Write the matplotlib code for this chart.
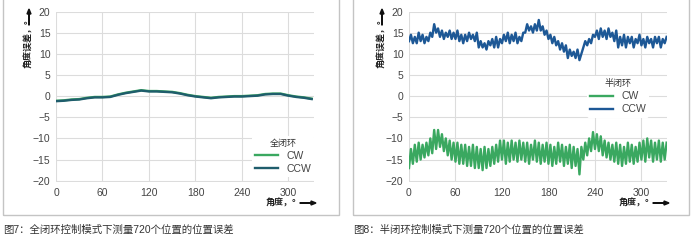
import numpy as np
import matplotlib
matplotlib.use("Agg")
import matplotlib.pyplot as plt
from matplotlib.patches import Rectangle, FancyArrow

plt.rcParams['font.family'] = ['Liberation Sans', 'Noto Sans CJK SC', 'DejaVu Sans']

# ---- data ----
# Fig 7: full closed loop, values every 10 deg
ang7 = [0, 10, 20, 30, 40, 50, 60, 70, 80, 90, 100, 110, 120, 130, 140, 150, 160,
        170, 180, 190, 200, 210, 220, 230, 240, 250, 260, 270, 280, 290, 300, 310,
        320, 330]
cw7 = [-1.1, -1.0, -0.8, -0.7, -0.4, -0.2, -0.2, -0.1, 0.4, 0.8, 1.1, 1.4, 1.2,
       1.2, 1.1, 1.0, 0.7, 0.3, 0.0, -0.2, -0.4, -0.2, -0.1, 0.0, 0.0, 0.1, 0.2,
       0.5, 0.6, 0.6, 0.2, -0.1, -0.3, -0.6]
ccw7 = [-1.2, -1.1, -0.9, -0.8, -0.5, -0.3, -0.3, -0.2, 0.3, 0.7, 1.0, 1.3, 1.1,
        1.1, 1.0, 0.9, 0.6, 0.2, -0.1, -0.3, -0.5, -0.3, -0.2, -0.1, -0.1, 0.0,
        0.1, 0.4, 0.5, 0.5, 0.1, -0.2, -0.4, -0.7]

# Fig 8: semi closed loop, values every 2.5 deg
ang8 = np.arange(0, 335, 2.5)
cw8 = [-17, -12.5, -16, -11.5, -15.5, -11, -15, -11.5, -14.5, -11, -14, -10,
       -13.5, -8, -12.5, -8, -12, -9, -13, -10, -14, -10.5, -15, -11,
       -15.5, -11, -16, -11.5, -16, -11.5, -16.5, -12, -16.5, -11.5, -17, -12,
       -17, -12.5, -17.5, -12, -17, -12.5, -16.5, -12, -16, -11.5, -15.5, -10.5,
       -15, -10.5, -16, -11, -15.5, -10.5, -15, -11, -15.5, -10.5, -15, -11,
       -15.5, -11, -16, -11.5, -15, -10.5, -15.5, -11, -16, -11.5, -15.5, -11,
       -16, -11.5, -16.5, -12, -16, -11, -15.5, -11.5, -16.5, -12, -16, -11.5,
       -17, -12, -16.5, -12.5, -18.5, -12, -15, -11, -14, -10, -13, -8.5,
       -12.5, -9, -13, -9.5, -14, -10.5, -14.5, -11, -15, -11.5, -15.5, -11,
       -16, -11.5, -16.5, -12, -16, -11, -15.5, -11.5, -16, -12, -15.5, -11,
       -15, -10.5, -15.5, -10, -14.5, -10.5, -15.5, -11, -15, -10.5, -15.5, -11,
       -15, -11]
ccw8 = [13, 14.5, 12.5, 14, 12.5, 15, 13, 14.5, 12.5, 14, 13, 15,
        14, 17, 15, 16, 14, 15.5, 13.5, 15, 14, 15.5, 13.5, 15,
        13.5, 15.5, 13, 14.5, 12.5, 14.5, 13, 15, 13.5, 14.5, 13, 15,
        11.5, 13, 11.5, 12.5, 11, 13, 12, 13.5, 11.5, 14, 11.5, 13.5,
        12.5, 14.5, 13, 15, 12.5, 14.5, 13, 15, 12.5, 14, 13, 15,
        15, 17, 15.5, 16.5, 15, 17, 15.5, 18, 15.5, 16.5, 14.5, 15.5,
        13.5, 14.5, 12.5, 14, 12, 13, 11, 12.5, 10.5, 12, 9, 11,
        9.5, 10.5, 9, 11, 8.5, 10, 11.5, 13, 12, 13.5, 12.5, 14.5,
        14, 15.5, 13.5, 16, 14, 15.5, 13.5, 16, 14, 15, 13, 15.5,
        11.5, 14, 12, 14.5, 11.5, 14, 12.5, 14, 11.5, 13.5, 12.5, 14.5,
        12, 13.5, 11.5, 14, 12.5, 13.5, 11.5, 14, 12.5, 14, 11.5, 13.5,
        12.5, 14]

xticks = [0, 60, 120, 180, 240, 300]
yticks = [-20, -15, -10, -5, 0, 5, 10, 15, 20]

green = '#3aa860'
teal = '#1f5d6c'
blue = '#1d5896'

W, H = 692, 244
fig = plt.figure(figsize=(W / 100, H / 100), dpi=100)


def px(x, y):
    return x / W, 1 - y / H


def panel(x0, ax_left, title, cap, x, cw, ccw, ccw_col, leg_anchor):
    # border of the panel
    fig.patches.append(Rectangle(px(x0, 215), 336 / W, 230 / H,
                                 transform=fig.transFigure, fill=False,
                                 ec='#c4c4c4', lw=1.0))
    fig.text(*px(x0, 230), cap, fontsize=7.5, color='#333333', va='center')

    ax = fig.add_axes([ax_left / W, 1 - 182 / H, 258 / W, 170.5 / H])
    ax.plot(x, cw, color=green, lw=1.7, label='CW')
    ax.plot(x, ccw, color=ccw_col, lw=1.7, label='CCW')
    ax.set_xlim(0, 333)
    ax.set_ylim(-20.3, 20)
    ax.set_xticks(xticks)
    ax.set_yticks(yticks)
    ax.grid(True, color='#dcdcdc', lw=0.8)
    for s in ax.spines.values():
        s.set_visible(False)
    ax.tick_params(length=0, labelsize=7.5, labelcolor='#444444', pad=4)
    leg = ax.legend(title=title, loc='center', bbox_to_anchor=leg_anchor,
                    fontsize=7.5, title_fontsize=6.5, frameon=True,
                    facecolor='white', edgecolor='none', framealpha=1,
                    handlelength=2.2, labelspacing=0.3, borderpad=0.3)
    for t in leg.get_texts():
        t.set_color('#444444')
    leg.get_title().set_color('#333333')

    # axis labels with arrows
    yl = ax_left - 27
    fig.text(*px(yl, 44), '角度误差，°', rotation=90, fontsize=6.5,
             fontweight='bold', ha='center', va='center', color='#222222')
    fig.patches.append(FancyArrow(
        *px(yl, 25), 0, 11 / H, width=0.6 / W, head_width=4 / W,
        head_length=5 / H, transform=fig.transFigure, color='#111111'))
    fig.text(*px(ax_left + 240, 203), '角度，°', fontsize=6.5, fontweight='bold',
             ha='right', va='center', color='#222222')
    fig.patches.append(FancyArrow(
        *px(ax_left + 244, 203), 11 / W, 0, width=0.6 / H, head_width=4 / H,
        head_length=5 / W, transform=fig.transFigure, color='#111111'))
    return ax


panel(3, 56, '全闭环', '图7：全闭环控制模式下测量720个位置的位置误差',
      ang7, cw7, ccw7, teal, (0.88, 0.15))
panel(353, 409, '半闭环', '图8：半闭环控制模式下测量720个位置的位置误差',
      ang8, cw8, ccw8, blue, (0.81, 0.50))

fig.savefig('out.png', dpi=100, facecolor='white')
